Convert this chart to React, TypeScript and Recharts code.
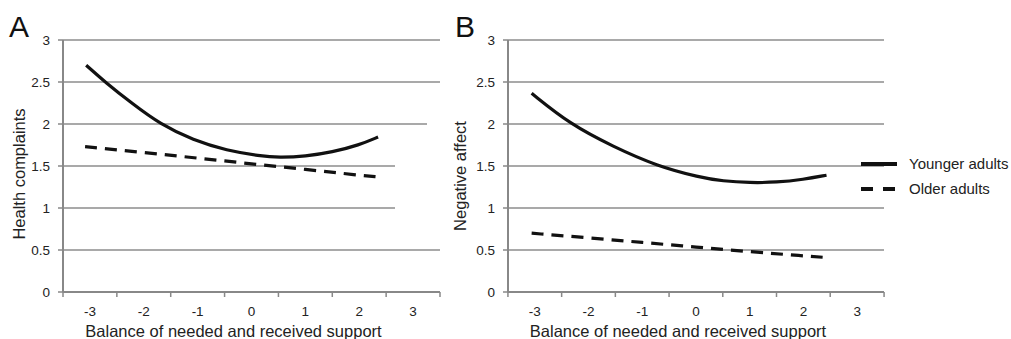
import React from "react"
import { LineChart, Line, XAxis, YAxis, CartesianGrid } from "recharts"

// x positions (balance score), values on the 0-3 scale
const healthYounger = [
  { x: -3.07, y: 2.7 },
  { x: -2.72, y: 2.5 },
  { x: -2.2, y: 2.235 },
  { x: -1.7, y: 2.0 },
  { x: -1.08, y: 1.805 },
  { x: -0.46, y: 1.685 },
  { x: 0.16, y: 1.62 },
  { x: 0.51, y: 1.6 },
  { x: 1, y: 1.615 },
  { x: 1.5, y: 1.665 },
  { x: 2, y: 1.75 },
  { x: 2.35, y: 1.845 },
]

const healthOlder = [
  { x: -3.09, y: 1.73 },
  { x: -2, y: 1.66 },
  { x: -1, y: 1.595 },
  { x: 0, y: 1.525 },
  { x: 1, y: 1.46 },
  { x: 2, y: 1.39 },
  { x: 2.35, y: 1.37 },
]

const affectYounger = [
  { x: -3.06, y: 2.365 },
  { x: -2.35, y: 2.0 },
  { x: -1.54, y: 1.73 },
  { x: -0.73, y: 1.5 },
  { x: 0.07, y: 1.365 },
  { x: 0.5, y: 1.32 },
  { x: 1, y: 1.3 },
  { x: 1.5, y: 1.305 },
  { x: 2, y: 1.34 },
  { x: 2.43, y: 1.39 },
]

const affectOlder = [
  { x: -3.06, y: 0.7 },
  { x: -2, y: 0.645 },
  { x: -1, y: 0.59 },
  { x: 0, y: 0.535 },
  { x: 1, y: 0.48 },
  { x: 2, y: 0.43 },
  { x: 2.43, y: 0.41 },
]

const seriesNames = ["Younger adults", "Older adults"]
const xTicks = [-3, -2, -1, 0, 1, 2, 3]
const yTicks = [0, 0.5, 1, 1.5, 2, 2.5, 3]
const xDomain: [number, number] = [-3.5, 3.5]

const FONT = "'Liberation Sans', Arial, sans-serif"
const TEXT = "#222"
const AXIS = "#888"
const DASH = "12 8"
// half a category width in px (plot is 377px wide, 7 categories)
const HALF = 377 / 14

const XTick = (t: any) => {
  const last = t.index === xTicks.length - 1
  const y0 = t.y - 8
  return (
    <g>
      <line x1={t.x - HALF} x2={t.x - HALF} y1={y0} y2={y0 + 5} stroke={AXIS} strokeWidth={1.5} />
      {last && (
        <line x1={t.x + HALF} x2={t.x + HALF} y1={y0} y2={y0 + 5} stroke={AXIS} strokeWidth={1.5} />
      )}
      <text x={t.x} y={316} textAnchor="middle" fontSize={13.5} fill={TEXT} fontFamily={FONT}>
        {t.payload.value}
      </text>
    </g>
  )
}

interface PanelProps {
  width: number
  right: number
  yTitle: string
  yTitleX: number
  yTitleDy: number
  xTitleY: number
  younger: { x: number; y: number }[]
  older: { x: number; y: number }[]
}

const Panel: React.FC<PanelProps> = (p) => {
  return (
    <LineChart
      width={p.width}
      height={339}
      margin={{ top: 40, right: p.right, left: 0, bottom: 0 }}
    >
      <CartesianGrid vertical={false} stroke="#8c8c8c" strokeWidth={1.5} />
      <XAxis
        type="number"
        dataKey="x"
        domain={xDomain}
        ticks={xTicks}
        tickLine={false}
        height={47}
        axisLine={{ stroke: AXIS, strokeWidth: 2 }}
        tick={XTick}
        label={(l: any) => {
          const vb = l.viewBox || {}
          return (
            <text
              x={vb.x + vb.width / 2 - 18}
              y={p.xTitleY}
              textAnchor="middle"
              fontSize={16.5}
              fill={TEXT}
              fontFamily={FONT}
            >
              Balance of needed and received support
            </text>
          )
        }}
      />
      <YAxis
        type="number"
        domain={[0, 3]}
        ticks={yTicks}
        width={63}
        tickSize={5}
        tickMargin={8}
        axisLine={{ stroke: AXIS, strokeWidth: 2 }}
        tickLine={{ stroke: AXIS, strokeWidth: 1.5 }}
        tick={{ fontSize: 13.5, fill: TEXT, fontFamily: FONT }}
        label={(l: any) => {
          const vb = l.viewBox || {}
          const cx = p.yTitleX
          const cy = vb.y + vb.height / 2 + p.yTitleDy
          return (
            <text
              x={cx}
              y={cy}
              transform={`rotate(-90, ${cx}, ${cy})`}
              textAnchor="middle"
              dominantBaseline="central"
              fontSize={16.5}
              fill={TEXT}
              fontFamily={FONT}
            >
              {p.yTitle}
            </text>
          )
        }}
      />
      <Line
        data={p.younger}
        dataKey="y"
        name={seriesNames[0]}
        type="basis"
        stroke="#111"
        strokeWidth={3.2}
        dot={false}
        activeDot={false}
        isAnimationActive={false}
      />
      <Line
        data={p.older}
        dataKey="y"
        name={seriesNames[1]}
        type="basis"
        stroke="#111"
        strokeWidth={3.2}
        strokeDasharray={DASH}
        dot={false}
        activeDot={false}
        isAnimationActive={false}
      />
    </LineChart>
  )
}

const LegendBox = () => (
  <svg width={150} height={52} style={{ position: "absolute", left: 861, top: 150 }}>
    {seriesNames.map((name, i) => {
      const y = 14 + i * 25
      return (
        <g key={name}>
          <line
            x1={0}
            x2={36}
            y1={y}
            y2={y}
            stroke="#111"
            strokeWidth={4}
            strokeDasharray={i === 1 ? "12 10" : undefined}
          />
          <text x={48} y={y + 5} fontSize={15} fill={TEXT} fontFamily={FONT}>
            {name}
          </text>
        </g>
      )
    })}
  </svg>
)

const letter: React.CSSProperties = {
  position: "absolute",
  fontFamily: FONT,
  fontSize: 30,
  color: "#111",
  lineHeight: "30px",
}

export default function App() {
  return (
    <div
      style={{
        position: "absolute",
        left: 0,
        top: 0,
        width: 1011,
        height: 339,
        background: "#fff",
        overflow: "hidden",
        fontFamily: FONT,
      }}
    >
      <div style={{ position: "absolute", left: 0, top: 0 }}>
        <Panel
          width={445}
          right={5}
          yTitle="Health complaints"
          yTitleX={19}
          yTitleDy={8}
          xTitleY={337}
          younger={healthYounger}
          older={healthOlder}
        />
      </div>
      {/* white patches where panel A's grid is hidden in the original */}
      <div style={{ position: "absolute", left: 395, top: 150, width: 50, height: 66, background: "#fff" }} />
      <div style={{ position: "absolute", left: 427, top: 115, width: 18, height: 40, background: "#fff" }} />
      <div style={{ position: "absolute", left: 445, top: 0 }}>
        <Panel
          width={566}
          right={127}
          yTitle="Negative affect"
          yTitleX={15}
          yTitleDy={10}
          xTitleY={336.5}
          younger={affectYounger}
          older={affectOlder}
        />
      </div>
      <LegendBox />
      <div style={{ ...letter, left: 9, top: 12 }}>A</div>
      <div style={{ ...letter, left: 455, top: 12 }}>B</div>
    </div>
  )
}
